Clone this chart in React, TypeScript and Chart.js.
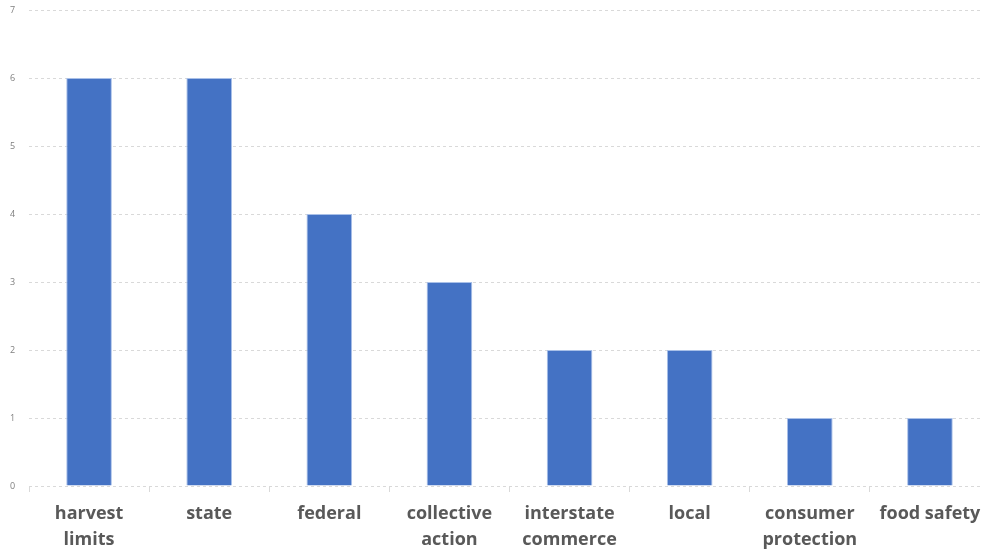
import React, { useEffect, useRef } from "react";
import { Chart, registerables } from "chart.js";

Chart.register(...registerables);

const categories: (string | string[])[] = [
  ["harvest", "limits"],
  "state",
  "federal",
  ["collective", "action"],
  ["interstate", "commerce"],
  "local",
  ["consumer", "protection"],
  "food safety",
];
const counts = [6, 6, 4, 3, 2, 2, 1, 1];
const yTicks = [0, 1, 2, 3, 4, 5, 6, 7];

export default function App() {
  const ref = useRef<HTMLCanvasElement | null>(null);
  useEffect(() => {
    if (!ref.current) return;
    const chart = new Chart(ref.current, {
      type: "bar",
      data: {
        labels: categories,
        datasets: [
          {
            data: counts,
            backgroundColor: "#4472C4",
            borderColor: "#a9c0e8",
            borderWidth: 1,
            barPercentage: 0.76,
            categoryPercentage: 0.5,
          },
        ],
      },
      options: {
        animation: false,
        responsive: false,
        maintainAspectRatio: false,
        layout: { padding: { top: 10, left: 10, right: 0, bottom: 0 } },
        plugins: { legend: { display: false }, tooltip: { enabled: false } },
        scales: {
          x: {
            grid: {
              display: true,
              drawOnChartArea: false,
              drawTicks: true,
              tickLength: 6,
              color: "#d9d9d9",
            },
            border: { display: false },
            ticks: {
              color: "#595959",
              font: { family: "'Open Sans', sans-serif", size: 18, weight: 700, lineHeight: 1.45 },
              padding: 9,
              maxRotation: 0,
              autoSkip: false,
            },
            afterFit: (s: any) => {
              s.height = 70;
            },
          },
          y: {
            min: 0,
            max: 7,
            afterBuildTicks: (s: any) => {
              s.ticks = yTicks.map((v) => ({ value: v }));
            },
            grid: {
              color: "#d9d9d9",
              drawTicks: false,
            },
            border: { display: false, dash: [3, 3] },
            ticks: {
              color: "#7f7f7f",
              font: { family: "'Open Sans', sans-serif", size: 9 },
              padding: 2,
              crossAlign: "far",
            },
            afterFit: (s: any) => {
              s.width = 19;
            },
          },
        },
      },
    } as any);
    return () => chart.destroy();
  }, []);
  return (
    <div style={{ position: "fixed", left: 0, top: 0, width: 981, height: 556, overflow: "hidden", background: "#fff" }}>
      <canvas ref={ref} width={990} height={556} style={{ width: 990, height: 556, display: "block" }} />
    </div>
  );
}
